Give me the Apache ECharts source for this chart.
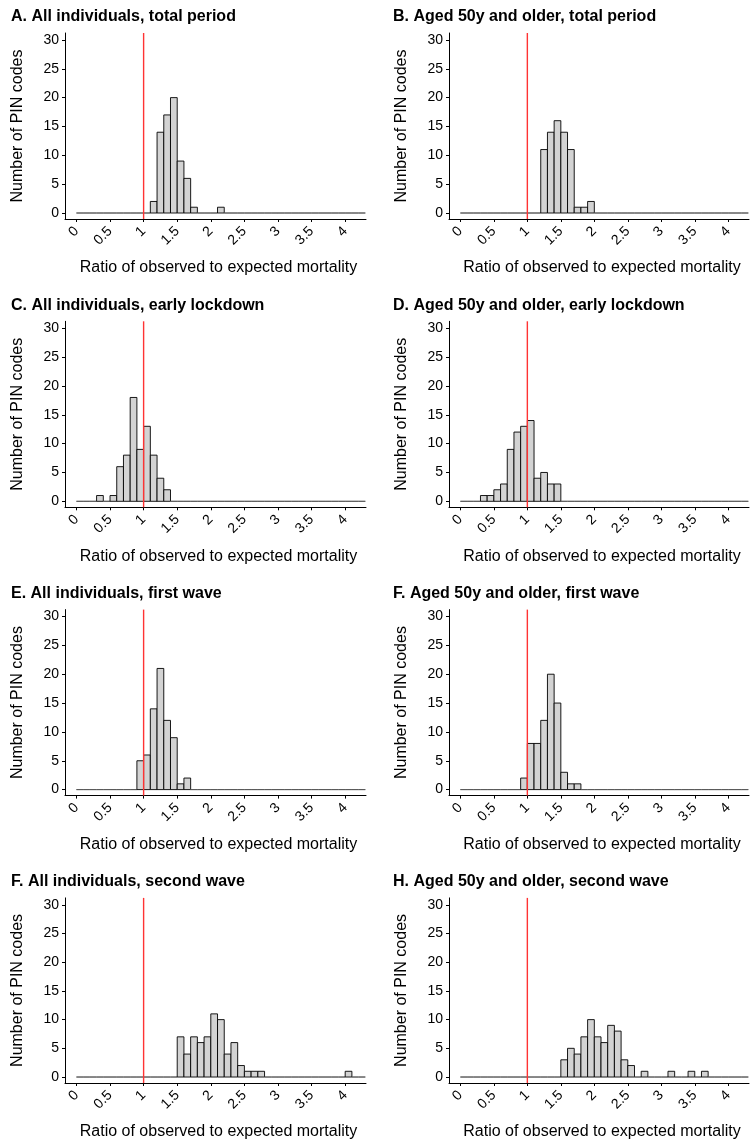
<!DOCTYPE html>
<html>
<head>
<meta charset="utf-8">
<script src="https://cdn.jsdelivr.net/npm/echarts@6/dist/echarts.min.js"></script>
<style>
  html, body { margin: 0; padding: 0; background: #fff; }
  #chart { width: 753px; height: 1141px; }
</style>
</head>
<body>
<div id="chart"></div>
<script>
// panel titles, in reading order (left column, right column)
const titles = [
  'A. All individuals, total period',
  'B. Aged 50y and older, total period',
  'C. All individuals, early lockdown',
  'D. Aged 50y and older, early lockdown',
  'E. All individuals, first wave',
  'F. Aged 50y and older, first wave',
  'F. All individuals, second wave',
  'H. Aged 50y and older, second wave'
]

// histogram: bins of 0.1 from 0 to 4.3, counts start at the given bin
const binWidth = 0.1
const binCount = 43
const startA = 1.1, countsA = [2, 14, 17, 20, 9, 6, 1, 0, 0, 0, 1]
const startB = 1.2, countsB = [11, 14, 16, 14, 11, 1, 1, 2]
const startC = 0.3, countsC = [1, 0, 1, 6, 8, 18, 9, 13, 8, 4, 2]
const startD = 0.3, countsD = [1, 1, 2, 3, 9, 12, 13, 14, 4, 5, 3, 3]
const startE = 0.9, countsE = [5, 6, 14, 21, 12, 9, 1, 2]
const startF = 0.9, countsF = [2, 8, 8, 12, 20, 15, 3, 1, 1]
const startG = 1.5, countsG = [7, 4, 7, 6, 7, 11, 10, 4, 6, 2, 1, 1, 1, 0, 0, 0, 0, 0, 0, 0, 0, 0, 0, 0, 0, 1]
const startH = 1.5, countsH = [3, 5, 4, 7, 10, 7, 6, 9, 8, 3, 2, 0, 1, 0, 0, 0, 1, 0, 0, 1, 0, 1]

const xTicks = [0, 0.5, 1, 1.5, 2, 2.5, 3, 3.5, 4]
const yTicks = [0, 5, 10, 15, 20, 25, 30]
const refLine = 1

const panels = [
  [startA, countsA], [startB, countsB], [startC, countsC], [startD, countsD],
  [startE, countsE], [startF, countsF], [startG, countsG], [startH, countsH]
]

function buildBins(start, counts) {
  const offset = Math.round(start / binWidth)
  const out = []
  for (let i = 0; i < binCount; i++) {
    const c = counts[i - offset] || 0
    out.push([+(i * binWidth).toFixed(2), +((i + 1) * binWidth).toFixed(2), c])
  }
  return out
}

const font = '"Liberation Sans", Arial, Helvetica, sans-serif'
const colLeft = [65, 449]
const gridWidth = [301, 300]
const rowStep = 288.3

const grid = [], xAxis = [], yAxis = [], series = [], title = []

panels.forEach(([start, counts], i) => {
  const col = i % 2, row = Math.floor(i / 2)
  const top = row * rowStep
  grid.push({ left: colLeft[col], top: top + 33, width: gridWidth[col], height: 186 })
  title.push({
    text: titles[i],
    left: col ? 393 : 11,
    top: top + 9,
    padding: 0,
    textStyle: { fontFamily: font, fontSize: 16, fontWeight: 'bold', color: '#000' }
  })
  xAxis.push({
    gridIndex: i,
    type: 'value',
    min: -0.17,
    max: 4.31,
    name: 'Ratio of observed to expected mortality',
    nameLocation: 'middle',
    nameGap: 41,
    nameTextStyle: { fontFamily: font, fontSize: 16, color: '#000', padding: [0, 0, 0, 6] },
    axisLine: { show: true, onZero: false, lineStyle: { color: '#000', width: 1 } },
    axisTick: { show: true, length: 3, customValues: xTicks, lineStyle: { color: '#000' } },
    axisLabel: {
      customValues: xTicks,
      rotate: 45,
      margin: 10,
      fontFamily: font, fontSize: 14, color: '#000'
    },
    splitLine: { show: false }
  })
  yAxis.push({
    gridIndex: i,
    type: 'value',
    min: -1.04,
    max: 31.2,
    name: 'Number of PIN codes',
    nameLocation: 'middle',
    nameGap: 39,
    nameTextStyle: { fontFamily: font, fontSize: 16, color: '#000' },
    axisLine: { show: true, onZero: false, lineStyle: { color: '#000', width: 1 } },
    axisTick: { show: true, length: 3, customValues: yTicks, lineStyle: { color: '#000' } },
    axisLabel: { customValues: yTicks, margin: 6, fontFamily: font, fontSize: 14, color: '#000' },
    splitLine: { show: false }
  })
  series.push({
    type: 'custom',
    xAxisIndex: i,
    yAxisIndex: i,
    data: buildBins(start, counts),
    renderItem: function (params, api) {
      const c = api.value(2)
      const p0 = api.coord([api.value(0), c])
      const p1 = api.coord([api.value(1), 0])
      return {
        type: 'rect',
        shape: { x: p0[0], y: p0[1], width: p1[0] - p0[0], height: p1[1] - p0[1] },
        style: {
          fill: c > 0 ? '#d3d3d3' : 'none',
          stroke: c > 0 ? '#000' : '#555',
          lineWidth: c > 0 ? 0.9 : 0.9
        }
      }
    },
    z: 2
  })
  // red reference line at ratio = 1, spanning the full panel height
  series.push({
    type: 'custom',
    xAxisIndex: i,
    yAxisIndex: i,
    data: [[refLine]],
    silent: true,
    renderItem: function (params, api) {
      const x = api.coord([api.value(0), 0])[0]
      const cs = params.coordSys
      return {
        type: 'line',
        shape: { x1: x, y1: cs.y, x2: x, y2: cs.y + cs.height },
        style: { stroke: '#ff3333', lineWidth: 1.4 }
      }
    },
    z: 3
  })
})

const chart = echarts.init(document.getElementById('chart'), null, { renderer: 'canvas' })
chart.setOption({
  animation: false,
  backgroundColor: '#fff',
  title,
  grid,
  xAxis,
  yAxis,
  series
})
</script>
</body>
</html>
